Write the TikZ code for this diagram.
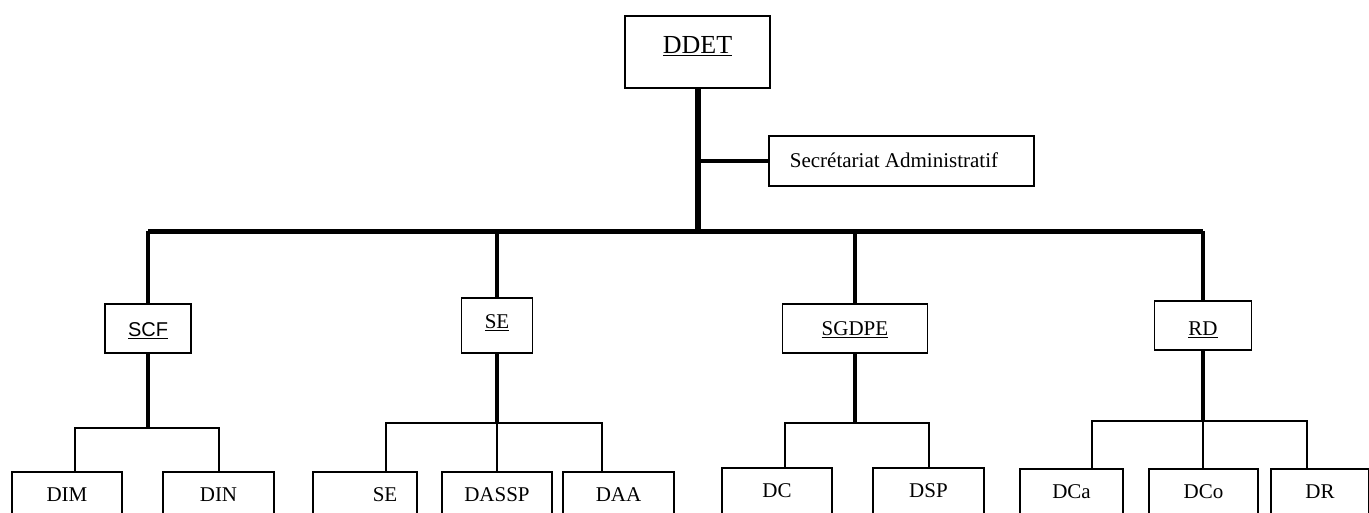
\documentclass[tikz,border=0pt]{standalone}
\usepackage{fontspec}
\setmainfont{Liberation Serif}
\newfontfamily\arialfont{Liberation Sans}
\usepackage{tikz}

\begin{document}
\begin{tikzpicture}[x=1pt,y=-1pt,
    trunk/.style={line width=5pt},
    branch/.style={line width=4pt},
    twig/.style={line width=2pt},
    unit/.style={text height=30pt,text depth=40pt}]

      \useasboundingbox[fill=white] (0,0) rectangle (1369,512);

      \begin{scope}[every node/.style={draw,line width=1.5pt,inner sep=0pt,anchor=north,
          font=\fontsize{21}{25}\selectfont}]
        \node[minimum width=145pt,text height=38pt,text depth=34pt,
          font=\fontsize{26}{30}\selectfont] (ddet) at (697.5,15) {\underline{DDET}};
        \node[minimum width=265pt,text height=32pt,text depth=18pt] (sa) at (901.5,135)
          {Secrétariat Administratif\hspace*{15pt}};

        \node[minimum width=86pt,text height=33pt,text depth=16pt,
          font=\fontsize{20}{24}\arialfont] (scf) at (148,303) {\underline{SCF}};
        \node[minimum width=71pt,text height=31pt,text depth=24pt] (se) at (497,297) {\underline{SE}};
        \node[minimum width=145pt,text height=32pt,text depth=17pt] (sgdpe) at (855,303) {\underline{SGDPE}};
        \node[minimum width=97pt,text height=35pt,text depth=14pt] (rd) at (1203,300) {\underline{RD}};

        \node[unit,minimum width=110pt] (dim) at (67,471) {DIM};
        \node[unit,minimum width=111pt] (din) at (218.5,471) {DIN};
        \node[unit,minimum width=104pt] (se2) at (365,471) {\hspace*{40pt}SE};
        \node[unit,minimum width=110pt] (dassp) at (497,471) {DASSP};
        \node[unit,minimum width=111pt] (daa) at (618.5,471) {DAA};
        \node[unit,minimum width=110pt] (dc) at (777,467) {DC};
        \node[unit,minimum width=111pt] (dsp) at (928.5,467) {DSP};
        \node[unit,minimum width=103pt] (dca) at (1071.5,468) {DCa};
        \node[unit,minimum width=109pt] (dco) at (1203.5,468) {DCo};
        \node[unit,minimum width=98pt] (dr) at (1320,468) {DR};
      \end{scope}

      % main line and bus
      \coordinate (top) at (698,231);
      \draw[line width=6pt] (ddet.south) -- (ddet.south |- top);
      \draw[branch] (sa) -- (sa.west -| ddet);
      \draw[trunk] (scf |- top) -- (rd |- top);
      \foreach \n in {scf,se,sgdpe,rd}
        \draw[branch] (\n) -- (\n |- top);

      % second level bars
      \coordinate (l1) at (75,428);   \coordinate (r1) at (219,428);
      \coordinate (l2) at (386,423);  \coordinate (r2) at (602,423);
      \coordinate (l3) at (785,423);  \coordinate (r3) at (929,423);
      \coordinate (l4) at (1092,421); \coordinate (r4) at (1307,421);

      \draw[branch] (scf) -- (scf |- l1);
      \draw[branch] (se) -- (se |- l2);
      \draw[branch] (sgdpe) -- (sgdpe |- l3);
      \draw[branch] (rd) -- (rd |- l4);

      \begin{scope}[twig]
        \draw (l1 |- dim.north) -- (l1) -- (r1) -- (r1 |- din.north);
        \draw (l2 |- se2.north) -- (l2) -- (r2) -- (r2 |- daa.north);
        \draw (se |- l2) -- (se |- dassp.north);
        \draw (l3 |- dc.north) -- (l3) -- (r3) -- (r3 |- dsp.north);
        \draw (l4 |- dca.north) -- (l4) -- (r4) -- (r4 |- dr.north);
        \draw (rd |- l4) -- (rd |- dco.north);
      \end{scope}

    \end{tikzpicture}
\end{document}
